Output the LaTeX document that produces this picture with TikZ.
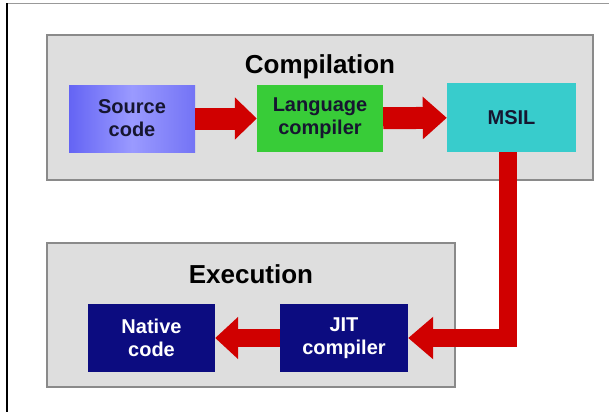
\documentclass[tikz,border=0pt]{standalone}
\usepackage{fontspec}
\setmainfont{Liberation Sans}
\usetikzlibrary{arrows.meta}
\definecolor{panelfill}{HTML}{DEDEDE}
\definecolor{panelline}{HTML}{8A8A8A}
\definecolor{srcA}{HTML}{6464F4}
\definecolor{srcB}{HTML}{9A9AFF}
\definecolor{langgreen}{HTML}{38CC38}
\definecolor{msilcyan}{HTML}{38CCCC}
\definecolor{navybox}{HTML}{0C0C80}
\definecolor{arrowred}{HTML}{D00000}
\definecolor{darktext}{HTML}{161630}
\tikzset{
  panel/.style={draw=panelline, line width=2pt, fill=panelfill, inner sep=0pt},
  box/.style={inner sep=0pt, align=center, font=\bfseries\fontsize{20}{23}\selectfont, text=darktext},
  navy/.style={box, fill=navybox, text=white},
  title/.style={font=\bfseries\fontsize{26}{30}\selectfont, text=black, inner sep=0pt},
  bigarrow/.style={draw=arrowred, line width=#1, line join=miter},
  bigarrow/.default=20pt
}
\begin{document}
\begin{tikzpicture}[x=1pt,y=-1pt]
\useasboundingbox (0,0) rectangle (609,412);
\fill[white] (0,0) rectangle (609,412);
% outer frame
\draw[color=gray!80, line width=1pt] (7,3.5) -- (609,3.5);
\draw[color=black, line width=1.2pt] (7,3.5) -- (7,412);
% panels
\node[panel, minimum width=546pt, minimum height=145pt] (comp) at (320,107.5) {};
\node[panel, minimum width=408pt, minimum height=144pt] (exec) at (251,315) {};
\node[title, anchor=base] (comptitle) at (320,73) {Compilation};
\node[title, anchor=base] (exectitle) at (251,283) {Execution};
% boxes
\node[box, minimum width=126pt, minimum height=67pt, left color=srcA, right color=srcA!90!white, middle color=srcB] (src) at (132,118.5) {Source\\code};
\node[box, fill=langgreen, minimum width=126pt, minimum height=67pt] (lang) at (320,118.5) {Language\\compiler};
\node[box, fill=msilcyan, minimum width=129pt, minimum height=69pt] (msil) at (511.5,117.5) {MSIL};
\node[navy, minimum width=127pt, minimum height=68pt] (native) at (151.5,338) {Native\\code};
\node[navy, minimum width=128pt, minimum height=68pt] (jit) at (344,338) {JIT\\compiler};
% arrows
\draw[bigarrow=22pt, -{Triangle[width=41pt,length=22pt]}] (src) -- (lang);
\draw[bigarrow=22pt, -{Triangle[width=41pt,length=24pt]}] (lang) -- (msil);
\draw[bigarrow=18pt, -{Triangle[width=41pt,length=25pt]}] ([xshift=-3.5pt]msil.south) |- (jit.east);
\draw[bigarrow=18pt, -{Triangle[width=41pt,length=23pt]}] (jit) -- (native);
\end{tikzpicture}
\end{document}
